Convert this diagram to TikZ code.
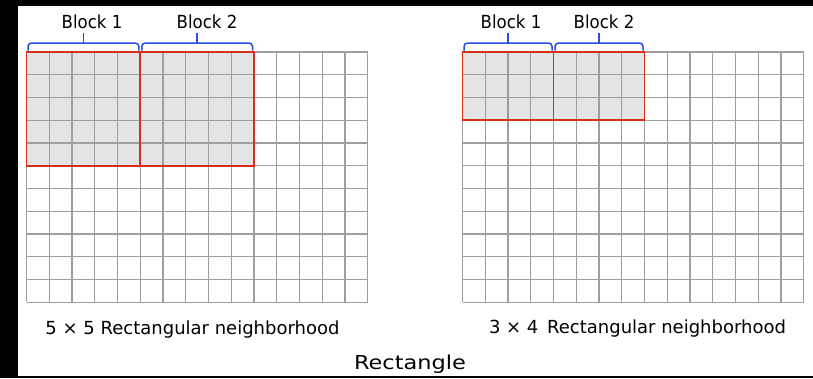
\documentclass[tikz,border=0pt]{standalone}
\usepackage{fontspec}
\setmainfont{DejaVu Sans}
\usepackage{graphicx}
\definecolor{gridgray}{RGB}{158,158,158}
\definecolor{fillgray}{RGB}{228,228,228}
\definecolor{blockred}{RGB}{214,48,28}
\definecolor{braceblue}{RGB}{38,78,228}
\begin{document}
\begin{tikzpicture}[x=1pt,y=-1pt,
  gridline/.style={draw=gridgray, line width=1.4pt},
  blockfill/.style={fill=fillgray},
  blockbox/.style={draw=blockred, line width=1.8pt},
  bracepath/.style={draw=braceblue, line width=1.5pt, rounded corners=3.5pt},
  lbl/.style={font=\fontsize{18}{20}\selectfont, anchor=base, inner sep=0pt},
  biglbl/.style={font=\fontsize{19.2}{22}\selectfont, anchor=base, inner sep=0pt}]
\path[use as bounding box] (0,0) rectangle (813,378);
\fill[black] (0,0) rectangle (813,378);
\fill[white] (18,6) rectangle (813,376);
% shaded blocks
\fill[blockfill] (26.5,52) rectangle (254,165.75);
\fill[blockfill] (462.5,52) rectangle (644.5,120.25);
% grids
\foreach \i in {0,...,15} {
  \draw[gridline] (26.5+\i*22.75,52) -- (26.5+\i*22.75,302.25);
  \draw[gridline] (462.5+\i*22.75,52) -- (462.5+\i*22.75,302.25);
}
\foreach \j in {0,...,11} {
  \draw[gridline] (26.5,52+\j*22.75) -- (367.75,52+\j*22.75);
  \draw[gridline] (462.5,52+\j*22.75) -- (803.75,52+\j*22.75);
}
% red block outlines
\draw[blockbox] (26.5,52) rectangle (140.25,165.75);
\draw[blockbox] (140.25,52) rectangle (254,165.75);
\draw[blockbox] (462.5,52) rectangle (553.5,120.25);
\draw[blockbox] (553.5,52) rectangle (644.5,120.25);
% braces
\foreach \a/\b in {28/138.75, 141.75/252.5, 464/552, 555/643} {
  \draw[bracepath] (\a,50.5) -- (\a,43) -- (\b,43) -- (\b,50.5);
  \draw[draw=braceblue, line width=1.5pt] ({(\a+\b)/2},43) -- ({(\a+\b)/2},33);
}
% labels
\node[lbl] (lb1) at (92,28) {\scalebox{0.92}[1]{Block 1}};
\node[lbl] (lb2) at (207,28) {\scalebox{0.92}[1]{Block 2}};
\node[lbl] (rb1) at (511,28) {\scalebox{0.92}[1]{Block 1}};
\node[lbl] (rb2) at (604,28) {\scalebox{0.92}[1]{Block 2}};
\node[lbl] (capL) at (192.5,334) {5 × 5 Rectangular neighborhood};
\node[lbl] (capR) at (637.5,333) {3 × 4 \,Rectangular neighborhood};
\node[biglbl] (title) at (410,369) {\scalebox{1.17}[1]{Rectangle}};
\end{tikzpicture}
\end{document}
